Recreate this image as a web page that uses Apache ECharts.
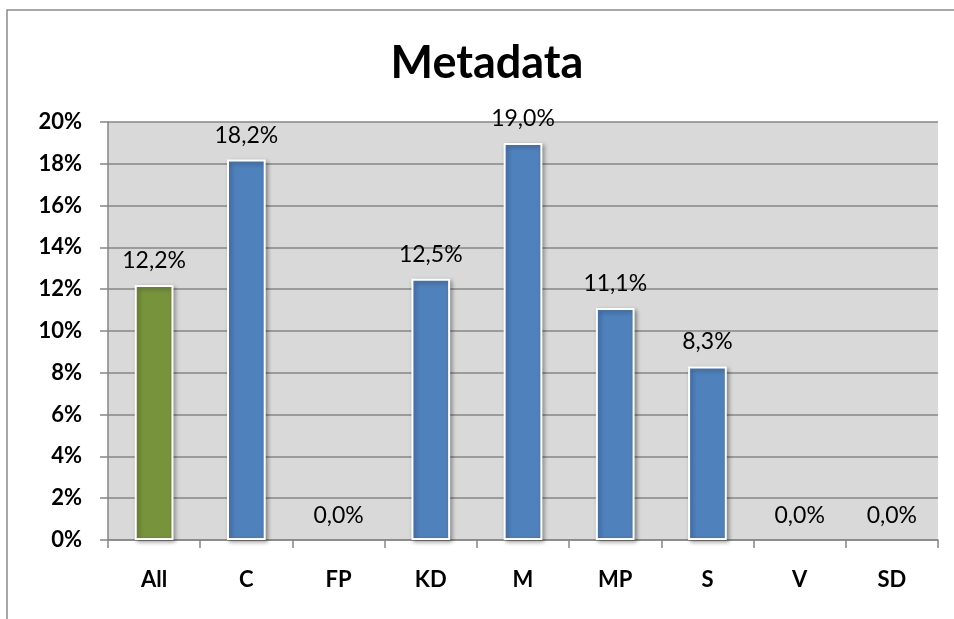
<!DOCTYPE html>
<html>
<head>
<meta charset="utf-8">
<script src="https://cdn.jsdelivr.net/npm/echarts@6/dist/echarts.min.js"></script>
<style>
  html, body { margin: 0; padding: 0; background: #fff; }
  #chart { width: 954px; height: 619px; }
</style>
</head>
<body>
<div id="chart"></div>
<script>
// categories and values (percent)
var categories = ['All', 'C', 'FP', 'KD', 'M', 'MP', 'S', 'V', 'SD'];
var values = [12.2, 18.2, 0.0, 12.5, 19.0, 11.1, 8.3, 0.0, 0.0];
var barColors = ['#77933c', '#4f81bd', '#4f81bd', '#4f81bd', '#4f81bd', '#4f81bd', '#4f81bd', '#4f81bd', '#4f81bd'];

var font = 'Lato, "Open Sans", sans-serif';

var myChart = echarts.init(document.getElementById('chart'));

var option = {
    animation: false,
    backgroundColor: '#fff',
    title: {
        text: 'Metadata',
        left: 482,
        textAlign: 'center',
        top: 36,
        textStyle: { fontFamily: font, fontSize: 45, fontWeight: 'bold', color: '#000' }
    },
    graphic: [{
        type: 'rect',
        shape: { x: 7, y: 10, width: 960, height: 620 },
        style: { fill: 'none', stroke: '#8a8a8a', lineWidth: 1.5 },
        z: -1
    }],
    grid: { left: 108, right: 16, top: 122, bottom: 79, show: true, backgroundColor: '#d9d9d9', borderWidth: 0 },
    xAxis: {
        type: 'category',
        data: categories,
        axisLine: { lineStyle: { color: '#868686', width: 1.5 } },
        axisTick: { show: true, length: 8, lineStyle: { color: '#868686', width: 1.5 } },
        axisLabel: { margin: 29, fontFamily: font, fontSize: 22, fontWeight: 'bold', color: '#000' }
    },
    yAxis: {
        type: 'value',
        min: 0,
        max: 20,
        interval: 2,
        axisLine: { show: true, lineStyle: { color: '#868686', width: 1.5 } },
        axisTick: { show: true, length: 8, lineStyle: { color: '#868686', width: 1.5 } },
        splitLine: { lineStyle: { color: '#868686', width: 1.5 } },
        axisLabel: {
            margin: 26, fontFamily: font, fontSize: 22, fontWeight: 'bold', color: '#000',
            formatter: function(v) { return v + '%'; }
        }
    },
    series: [{
        type: 'bar',
        barWidth: '42%',
        data: values.map(function(v, i) {
            return { value: v, itemStyle: { color: barColors[i], borderWidth: v > 0 ? 2 : 0, shadowBlur: v > 0 ? 4 : 0 } };
        }),
        itemStyle: {
            borderColor: '#fff',
            shadowColor: 'rgba(0,0,0,0.35)',
            shadowOffsetX: 2,
            shadowOffsetY: 2
        },
        label: {
            show: true,
            position: 'top',
            distance: 13,
            fontFamily: font,
            fontSize: 23,
            color: '#000',
            formatter: function(p) { return p.value.toFixed(1).replace('.', ',') + '%'; }
        }
    }]
};

myChart.setOption(option);
</script>
</body>
</html>
